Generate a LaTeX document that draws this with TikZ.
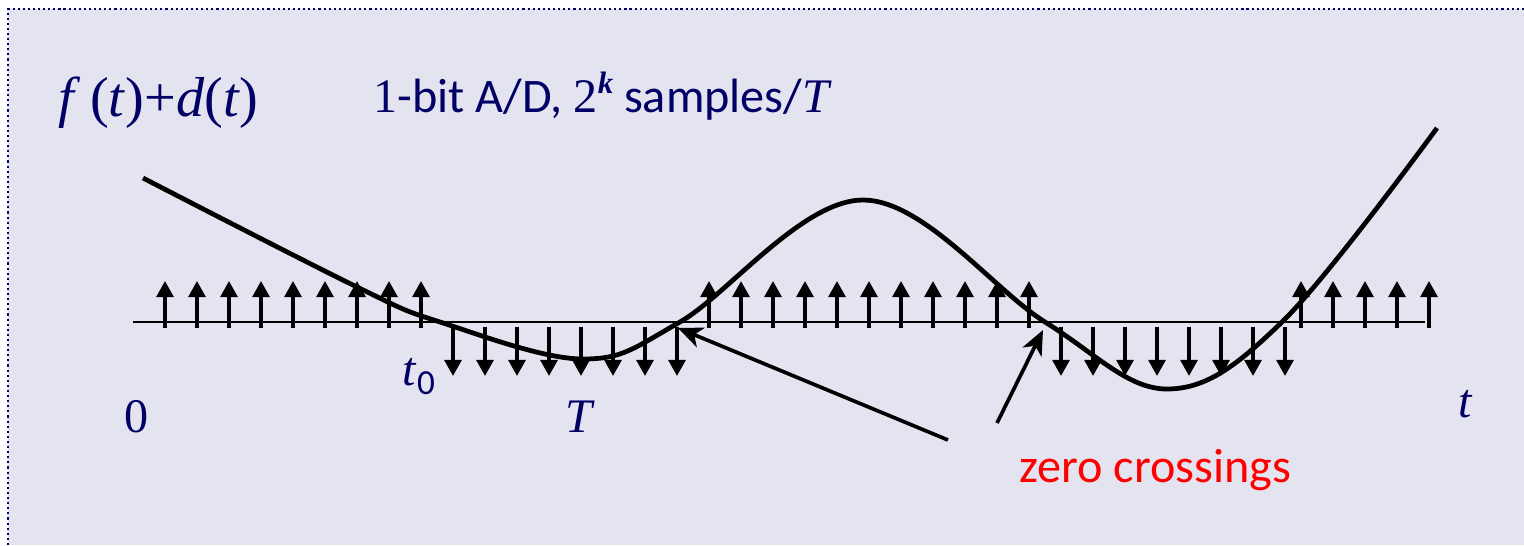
\documentclass[tikz,border=0pt]{standalone}
\usepackage{fontspec}
\setmainfont{Liberation Serif}
\newfontfamily\calibri{Carlito}
\usepackage{xcolor}
\definecolor{slidebg}{RGB}{228,228,240}
\definecolor{slidenavy}{RGB}{0,0,102}
\definecolor{slidered}{RGB}{255,0,0}
\usetikzlibrary{arrows.meta}

\begin{document}
\begin{tikzpicture}[x=0.01cm, y=-0.01cm,
  samplearrow/.style={line width=1.05pt, -{Triangle[length=4.6pt, width=4.8pt]}},
  pointer/.style={line width=1.05pt, -{Stealth[length=7pt, width=6pt, inset=2pt]}},
  lbl/.style={font=\fontsize{13.7}{16}\selectfont, text=slidenavy, inner sep=0pt}]

\useasboundingbox (0,0) rectangle (1524,545);

% ===== Slide background =====
\fill[slidebg] (8,9) rectangle (1524,545);
\draw[slidenavy, line width=0.6pt, dash pattern=on 0.6pt off 0.85pt] (8,545) -- (8,9) -- (1524,9);

% ===== Labels =====
\node[lbl, font=\fontsize{16}{18}\selectfont, anchor=base west] (sig) at (58,116)
      {\textit{f}\,(\textit{t})+\textit{d}(\textit{t})};
\node[lbl, anchor=base west] (adc) at (373,112)
      {1{\calibri -bit A/D, }2\raisebox{5.4pt}{\fontsize{8.8}{10}\selectfont\textbf{\textit{k}}}{\calibri\ samples/}\textit{T}};
\node[lbl, anchor=base west] (tzero) at (402,385)
      {\textit{t}\raisebox{-2.8pt}{\calibri\fontsize{10}{12}\selectfont 0}};
\node[lbl, anchor=base west] (origin) at (124,432) {0};
\node[lbl, anchor=base west] (period) at (565,432) {\textit{T}};
\node[lbl, anchor=base west] (taxis) at (1458,417) {\textit{t}};
\node[lbl, text=slidered, font=\calibri\fontsize{13.7}{16}\selectfont, anchor=base west]
      (zc) at (1019,482) {zero crossings};

% ===== Time axis =====
\coordinate (axstart) at (133,322);
\coordinate (axend) at (1425,322);
\draw[line width=0.6pt] (axstart) -- (axend);

% ===== 1-bit samples (up = +1, down = -1) =====
\foreach \x in {165,197,...,421}
  \draw[samplearrow] (\x,328) -- (\x,281);
\foreach \x in {453,485,...,677}
  \draw[samplearrow] (\x,327) -- (\x,376);
\foreach \x in {709,741,...,1029}
  \draw[samplearrow] (\x,328) -- (\x,281);
\foreach \x in {1061,1093,...,1285}
  \draw[samplearrow] (\x,327) -- (\x,376);
\foreach \x in {1301,1333,...,1429}
  \draw[samplearrow] (\x,328) -- (\x,281);

% ===== Signal f(t)+d(t) =====
\draw[line width=1.35pt] plot[smooth, tension=0.6] coordinates {
  (143,178) (357,287) (440,322) (583,359) (680,322) (863,200)
  (1045,322) (1167,389) (1282,322) (1437,128)};

% ===== Zero-crossing pointers =====
\coordinate (zcA) at (678,328);
\coordinate (zcB) at (1043,330);
\coordinate (zcAtail) at (948,440);
\coordinate (zcBtail) at (997,423);
\draw[pointer] (zcAtail) -- (zcA);
\draw[pointer] (zcBtail) -- (zcB);

\end{tikzpicture}
\end{document}
